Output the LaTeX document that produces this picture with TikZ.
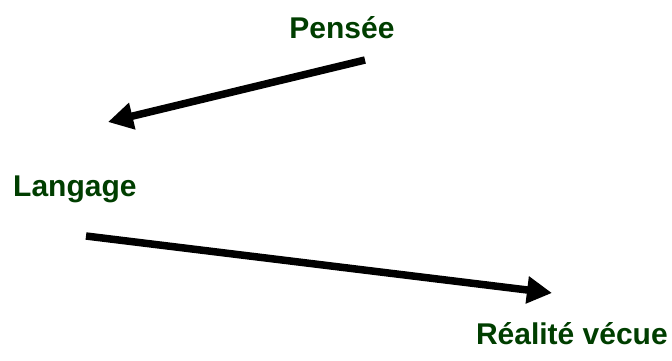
\documentclass[tikz,border=0pt]{standalone}
\usepackage{fontspec}
\setmainfont{Liberation Sans}
\usetikzlibrary{arrows.meta}
\definecolor{lbl}{RGB}{0,62,0}
\begin{document}
\begin{tikzpicture}[x=1pt,y=-1pt,
  lab/.style={font=\fontsize{30}{34}\selectfont\bfseries, text=lbl, inner sep=0pt},
  bigarrow/.style={line width=7.5pt, -{Triangle[length=25pt,width=26pt]}}]
\useasboundingbox (0,0) rectangle (672,360);
\node[lab, anchor=base] (pensee) at (342,38) {Pensée};
\node[lab, anchor=base west] (langage) at (13,196) {Langage};
\node[lab, anchor=base east] (realite) at (668,344) {Réalité vécue};
\coordinate (a1s) at (365,60);
\coordinate (a1e) at (108,122);
\coordinate (a2s) at (86,236);
\coordinate (a2e) at (552,293);
\draw[bigarrow] (a1s) -- (a1e);
\draw[bigarrow] (a2s) -- (a2e);
\end{tikzpicture}
\end{document}
